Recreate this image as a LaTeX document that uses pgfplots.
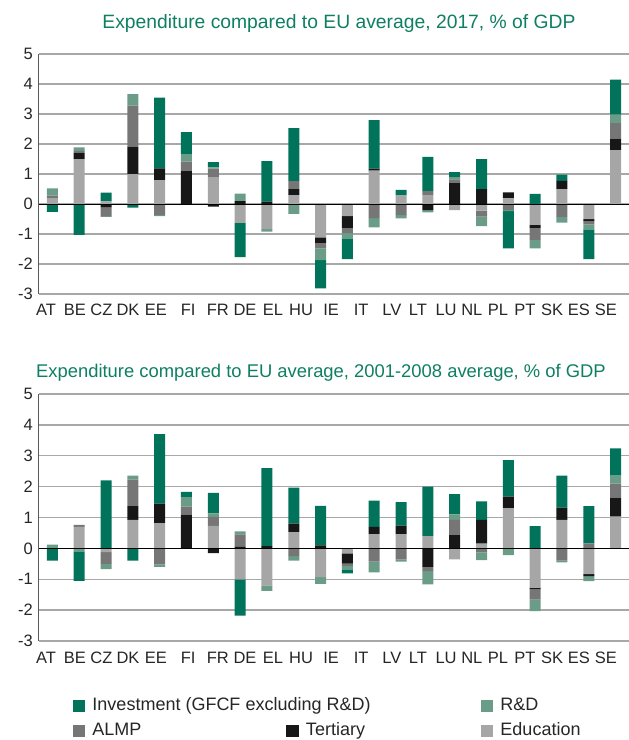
\documentclass[border=0pt]{standalone}
\usepackage{pgfplots}
\pgfplotsset{compat=1.18}
\usepackage{pgfplotstable}
\usepackage{fontspec}
\setmainfont{Liberation Sans}
\definecolor{cinv}{HTML}{00735A}
\definecolor{crd}{HTML}{6A9C88}
\definecolor{calmp}{HTML}{767676}
\definecolor{cter}{HTML}{171717}
\definecolor{cedu}{HTML}{A6A6A6}
\definecolor{ctitle}{HTML}{0E7F62}
\definecolor{cgrid}{HTML}{A8A8A8}

% columns: edu = Education, ter = Tertiary, almp = ALMP, rd = R&D, inv = Investment
\pgfplotstableread{
x edu ter almp rd inv
0 0.20 0 0.08 0.24 -0.26
1 1.50 0.21 0.06 0.12 -1.03
2 0.09 -0.10 -0.30 -0.03 0.29
3 1.00 0.91 1.37 0.38 -0.12
4 0.80 0.39 -0.37 -0.03 2.36
5 0 1.10 0.31 0.25 0.74
6 0.90 -0.09 0.28 0.04 0.18
7 -0.63 0.10 0 0.25 -1.14
8 -0.84 0.08 0 -0.08 1.35
9 0.30 0.20 0.26 -0.33 1.77
10 -1.11 -0.19 -0.18 -0.39 -0.94
11 -0.40 -0.40 -0.17 -0.18 -0.69
12 1.11 0.07 -0.47 -0.31 1.62
13 0.30 0 -0.37 -0.11 0.17
14 0.30 -0.20 0.13 -0.08 1.14
15 -0.20 0.70 0.12 0.08 0.16
16 -0.22 0.50 -0.20 -0.32 1.00
17 0.19 0.20 -0.20 -0.04 -1.24
18 -0.70 -0.10 -0.40 -0.28 0.34
19 0.50 0.27 -0.43 -0.19 0.21
20 -0.50 -0.08 -0.10 -0.17 -0.99
21 1.80 0.38 0.52 0.28 1.17
}\topdata

\pgfplotstableread{
x edu ter almp rd inv
0 0 0 0 0.12 -0.40
1 0.70 0 0.06 -0.10 -0.95
2 -0.12 0 -0.38 -0.17 2.20
3 0.92 0.45 0.86 0.13 -0.40
4 0.82 0.63 -0.52 -0.08 2.25
5 0 1.09 0.26 0.31 0.17
6 0.73 -0.15 0.29 0.11 0.67
7 -1.00 0.05 0.40 0.10 -1.18
8 -1.20 0.07 0 -0.18 2.53
9 0.53 0.27 -0.25 -0.15 1.17
10 -0.93 0.10 0 -0.22 1.28
11 -0.16 -0.33 -0.08 -0.11 -0.13
12 0.46 0.24 -0.43 -0.35 0.85
13 0.45 0.29 -0.36 -0.07 0.76
14 0.40 -0.60 -0.14 -0.43 1.60
15 -0.36 0.43 0.49 0.18 0.66
16 0.15 0.77 -0.13 -0.25 0.60
17 1.30 0.38 0 -0.22 1.18
18 -1.27 -0.06 -0.33 -0.37 0.72
19 0.92 0.40 -0.40 -0.05 1.04
20 -0.83 -0.07 0.16 -0.16 1.21
21 1.03 0.61 0.46 0.26 0.88
}\botdata

\pgfplotsset{
  base/.style={
    scale only axis, width=590pt, anchor=south west,
    xmin=-0.5, xmax=21.5, ymin=-3, ymax=5,
    ybar stacked, bar width=11pt,
    major tick length=0pt,
  },
  posaxis/.style={
    base,
    axis lines*=left,
    axis line style={-},
    x axis line style={cgrid, line width=1.3pt},
    y axis line style={black!65, line width=1pt},
    ymajorgrids, major grid style={cgrid, line width=1.3pt},
    ytick={-3,-2,-1,0,1,2,3,4,5},
    yticklabels={-3,-2,-1,0,1,2,3,4,5},
    yticklabel style={font=\fontsize{16.5}{19}\selectfont, inner sep=0pt, xshift=-6pt, text=black!85},
    xtick={-0.24,0.84,1.83,2.82,3.86,5.06,6.17,7.18,8.22,9.27,10.39,11.51,12.66,13.63,14.68,15.64,16.61,17.62,18.63,19.63,20.64},
    xticklabels={AT,BE,CZ,DK,EE,FI,FR,DE,EL,HU,IE,IT,LV,LT,LU,NL,PL,PT,SK,ES,SE},
    xticklabel style={font=\fontsize{16.5}{19}\selectfont, anchor=base, inner sep=0pt, yshift=-22pt, text=black!85},
  },
  negaxis/.style={
    base,
    axis line style={draw=none},
    xtick=\empty, ytick=\empty,
    extra y ticks={0}, extra y tick labels={},
    extra y tick style={grid=major, major grid style={black, line width=1pt}},
    axis on top,
  },
  sq legend/.style={legend image code/.code={\fill[##1] (0pt,-6pt) rectangle (12.5pt,6pt);}},
}

\begin{document}
\begin{tikzpicture}
\useasboundingbox (0pt,0pt) rectangle (629pt,740pt);

% ---------- Top chart: 2017 ----------
\begin{axis}[posaxis, height=240pt, at={(39pt,446pt)}]
\addplot[fill=cedu, draw=none, forget plot] table[x=x, y expr={max(\thisrow{edu},0)}] {\topdata};
\addplot[fill=cter, draw=none, forget plot] table[x=x, y expr={max(\thisrow{ter},0)}] {\topdata};
\addplot[fill=calmp, draw=none, forget plot] table[x=x, y expr={max(\thisrow{almp},0)}] {\topdata};
\addplot[fill=crd, draw=none, forget plot] table[x=x, y expr={max(\thisrow{rd},0)}] {\topdata};
\addplot[fill=cinv, draw=none, forget plot] table[x=x, y expr={max(\thisrow{inv},0)}] {\topdata};
\end{axis}
\begin{axis}[negaxis, height=240pt, at={(39pt,446pt)}]
\addplot[fill=cedu, draw=none, forget plot] table[x=x, y expr={min(\thisrow{edu},0)}] {\topdata};
\addplot[fill=cter, draw=none, forget plot] table[x=x, y expr={min(\thisrow{ter},0)}] {\topdata};
\addplot[fill=calmp, draw=none, forget plot] table[x=x, y expr={min(\thisrow{almp},0)}] {\topdata};
\addplot[fill=crd, draw=none, forget plot] table[x=x, y expr={min(\thisrow{rd},0)}] {\topdata};
\addplot[fill=cinv, draw=none, forget plot] table[x=x, y expr={min(\thisrow{inv},0)}] {\topdata};
\end{axis}
\node[anchor=base, text=ctitle, font=\fontsize{19.3}{22}\selectfont] at (339pt,711pt) {Expenditure compared to EU average, 2017, \% of GDP};

% ---------- Bottom chart: 2001-2008 ----------
\begin{axis}[posaxis, height=247pt, at={(39pt,99pt)},
  legend columns=3, legend cell align=left,
  legend style={at={(axis description cs:0.0576,-0.227)}, anchor=north west,
    draw=none, fill=none, inner sep=0pt, outer sep=0pt,
    font=\fontsize{18}{21}\selectfont, text=black!85,
    nodes={inner sep=0pt, text height=13pt, text depth=4pt},
    row sep=8pt,
    /tikz/every odd column/.append style={column sep=7pt}},
]
\addplot[fill=cedu, draw=none, forget plot] table[x=x, y expr={max(\thisrow{edu},0)}] {\botdata};
\addplot[fill=cter, draw=none, forget plot] table[x=x, y expr={max(\thisrow{ter},0)}] {\botdata};
\addplot[fill=calmp, draw=none, forget plot] table[x=x, y expr={max(\thisrow{almp},0)}] {\botdata};
\addplot[fill=crd, draw=none, forget plot] table[x=x, y expr={max(\thisrow{rd},0)}] {\botdata};
\addplot[fill=cinv, draw=none, forget plot] table[x=x, y expr={max(\thisrow{inv},0)}] {\botdata};
\addlegendimage{sq legend, fill=cinv, draw=none}
\addlegendentry{\makebox[194pt][l]{Investment (GFCF excluding R\&D)}}
\addlegendimage{empty legend}
\addlegendentry{\makebox[175pt][l]{}}
\addlegendimage{sq legend, fill=crd, draw=none}
\addlegendentry{R\&D}
\addlegendimage{sq legend, fill=calmp, draw=none}
\addlegendentry{\makebox[194pt][l]{ALMP}}
\addlegendimage{sq legend, fill=cter, draw=none}
\addlegendentry{\makebox[175pt][l]{Tertiary}}
\addlegendimage{sq legend, fill=cedu, draw=none}
\addlegendentry{Education}
\end{axis}
\begin{axis}[negaxis, height=247pt, at={(39pt,99pt)}]
\addplot[fill=cedu, draw=none, forget plot] table[x=x, y expr={min(\thisrow{edu},0)}] {\botdata};
\addplot[fill=cter, draw=none, forget plot] table[x=x, y expr={min(\thisrow{ter},0)}] {\botdata};
\addplot[fill=calmp, draw=none, forget plot] table[x=x, y expr={min(\thisrow{almp},0)}] {\botdata};
\addplot[fill=crd, draw=none, forget plot] table[x=x, y expr={min(\thisrow{rd},0)}] {\botdata};
\addplot[fill=cinv, draw=none, forget plot] table[x=x, y expr={min(\thisrow{inv},0)}] {\botdata};
\end{axis}
\node[anchor=base, text=ctitle, font=\fontsize{18.4}{22}\selectfont] at (321pt,362pt) {Expenditure compared to EU average, 2001-2008 average, \% of GDP};
\end{tikzpicture}
\end{document}
